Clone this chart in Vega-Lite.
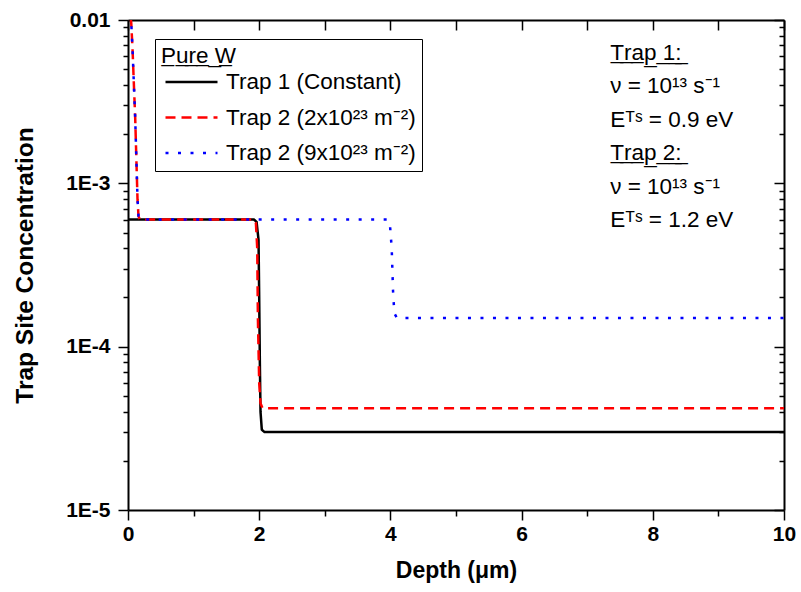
{
  "$schema": "https://vega.github.io/schema/vega-lite/v6.json",
  "width": 656,
  "height": 490,
  "autosize": {"type": "none"},
  "padding": {"left": 128, "top": 20, "right": 17, "bottom": 82},
  "background": "white",
  "config": {
    "view": {"stroke": null},
    "font": "Liberation Sans",
    "axis": {
      "grid": false,
      "domainColor": "black",
      "tickColor": "black",
      "labelColor": "black",
      "titleColor": "black",
      "domainWidth": 2,
      "tickWidth": 1.5,
      "labelFont": "Liberation Sans",
      "titleFont": "Liberation Sans"
    }
  },
  "datasets": {
    "curves": [
      {"s": "Trap 1 (Constant)", "x": 0, "y": 0.0006},
      {"s": "Trap 1 (Constant)", "x": 1.92, "y": 0.0006},
      {"s": "Trap 1 (Constant)", "x": 1.96, "y": 0.00058},
      {"s": "Trap 1 (Constant)", "x": 1.99, "y": 0.00045},
      {"s": "Trap 1 (Constant)", "x": 2.0, "y": 0.0002},
      {"s": "Trap 1 (Constant)", "x": 2.01, "y": 0.00008},
      {"s": "Trap 1 (Constant)", "x": 2.02, "y": 0.00004},
      {"s": "Trap 1 (Constant)", "x": 2.04, "y": 0.000031},
      {"s": "Trap 1 (Constant)", "x": 2.08, "y": 0.00003},
      {"s": "Trap 1 (Constant)", "x": 10, "y": 0.00003},
      {"s": "Trap 2 (2x10²³ m⁻²)", "x": 0.02, "y": 0.013},
      {"s": "Trap 2 (2x10²³ m⁻²)", "x": 0.05, "y": 0.0095},
      {"s": "Trap 2 (2x10²³ m⁻²)", "x": 0.07, "y": 0.0065},
      {"s": "Trap 2 (2x10²³ m⁻²)", "x": 0.09, "y": 0.004},
      {"s": "Trap 2 (2x10²³ m⁻²)", "x": 0.11, "y": 0.0025},
      {"s": "Trap 2 (2x10²³ m⁻²)", "x": 0.13, "y": 0.0013},
      {"s": "Trap 2 (2x10²³ m⁻²)", "x": 0.145, "y": 0.0008},
      {"s": "Trap 2 (2x10²³ m⁻²)", "x": 0.16, "y": 0.00063},
      {"s": "Trap 2 (2x10²³ m⁻²)", "x": 0.18, "y": 0.0006},
      {"s": "Trap 2 (2x10²³ m⁻²)", "x": 1.92, "y": 0.0006},
      {"s": "Trap 2 (2x10²³ m⁻²)", "x": 1.95, "y": 0.00057},
      {"s": "Trap 2 (2x10²³ m⁻²)", "x": 1.97, "y": 0.0004},
      {"s": "Trap 2 (2x10²³ m⁻²)", "x": 1.98, "y": 0.00015},
      {"s": "Trap 2 (2x10²³ m⁻²)", "x": 2.0, "y": 0.00006},
      {"s": "Trap 2 (2x10²³ m⁻²)", "x": 2.02, "y": 0.000045},
      {"s": "Trap 2 (2x10²³ m⁻²)", "x": 2.05, "y": 0.000042},
      {"s": "Trap 2 (2x10²³ m⁻²)", "x": 10, "y": 0.000042},
      {"s": "Trap 2 (9x10²³ m⁻²)", "x": 0.02, "y": 0.013},
      {"s": "Trap 2 (9x10²³ m⁻²)", "x": 0.05, "y": 0.0095},
      {"s": "Trap 2 (9x10²³ m⁻²)", "x": 0.07, "y": 0.0065},
      {"s": "Trap 2 (9x10²³ m⁻²)", "x": 0.09, "y": 0.004},
      {"s": "Trap 2 (9x10²³ m⁻²)", "x": 0.11, "y": 0.0025},
      {"s": "Trap 2 (9x10²³ m⁻²)", "x": 0.13, "y": 0.0013},
      {"s": "Trap 2 (9x10²³ m⁻²)", "x": 0.145, "y": 0.0008},
      {"s": "Trap 2 (9x10²³ m⁻²)", "x": 0.16, "y": 0.00063},
      {"s": "Trap 2 (9x10²³ m⁻²)", "x": 0.18, "y": 0.0006},
      {"s": "Trap 2 (9x10²³ m⁻²)", "x": 3.96, "y": 0.0006},
      {"s": "Trap 2 (9x10²³ m⁻²)", "x": 3.99, "y": 0.00058},
      {"s": "Trap 2 (9x10²³ m⁻²)", "x": 4.02, "y": 0.0004},
      {"s": "Trap 2 (9x10²³ m⁻²)", "x": 4.04, "y": 0.00022},
      {"s": "Trap 2 (9x10²³ m⁻²)", "x": 4.06, "y": 0.00016},
      {"s": "Trap 2 (9x10²³ m⁻²)", "x": 4.1, "y": 0.00015},
      {"s": "Trap 2 (9x10²³ m⁻²)", "x": 10, "y": 0.00015}
    ]
  },
  "layer": [
    {
      "data": {"name": "curves"},
      "mark": {"type": "line", "clip": true, "strokeWidth": 2.5},
      "encoding": {
        "x": {
          "field": "x", "type": "quantitative",
          "scale": {"domain": [0, 10], "nice": false, "zero": false},
          "axis": {
            "orient": "bottom", "values": [0, 2, 4, 6, 8, 10], "format": "d",
            "title": "Depth (μm)", "titleFontSize": 23, "titleFontWeight": "bold", "titlePadding": 15,
            "labelFontSize": 21, "labelFontWeight": "bold", "labelPadding": 3, "labelFlush": false,
            "tickSize": 10
          }
        },
        "y": {
          "field": "y", "type": "quantitative",
          "scale": {"type": "log", "domain": [0.00001, 0.01], "nice": false},
          "axis": {
            "orient": "left", "values": [0.00001, 0.0001, 0.001, 0.01],
            "labelExpr": "datum.value > 0.005 ? '0.01' : datum.value > 0.0005 ? '1E-3' : datum.value > 0.00005 ? '1E-4' : '1E-5'",
            "title": "Trap Site Concentration", "titleFontSize": 24.5, "titleFontWeight": "bold", "titlePadding": 28,
            "labelFontSize": 21, "labelFontWeight": "bold", "labelPadding": 8, "labelFlush": false,
            "tickSize": 10
          }
        },
        "color": {
          "field": "s", "type": "nominal",
          "scale": {"domain": ["Trap 1 (Constant)", "Trap 2 (2x10²³ m⁻²)", "Trap 2 (9x10²³ m⁻²)"], "range": ["#000000", "#ff0000", "#0000ff"]},
          "legend": {
            "title": "P̲u̲r̲e̲ ̲W̲", "orient": "none", "legendX": 27, "legendY": 19,
            "strokeColor": "black", "fillColor": "white", "padding": 6,
            "titleFont": "Liberation Sans", "titleFontSize": 22.5, "titleFontWeight": "normal", "titleColor": "black", "titlePadding": 3.5,
            "labelFont": "Liberation Sans", "labelFontSize": 22.5, "labelColor": "black", "labelOffset": 7, "labelLimit": 400,
            "symbolType": "stroke", "symbolSize": 2704, "symbolStrokeWidth": 2.5, "symbolOffset": 3, "clipHeight": 22, "rowPadding": 12.5
          }
        },
        "strokeDash": {
          "field": "s", "type": "nominal",
          "scale": {"domain": ["Trap 1 (Constant)", "Trap 2 (2x10²³ m⁻²)", "Trap 2 (9x10²³ m⁻²)"], "range": [[1, 0], [10, 6], [3, 9.5]]},
          "legend": {
            "title": "P̲u̲r̲e̲ ̲W̲", "orient": "none", "legendX": 27, "legendY": 19,
            "strokeColor": "black", "fillColor": "white", "padding": 6,
            "titleFont": "Liberation Sans", "titleFontSize": 22.5, "titleFontWeight": "normal", "titleColor": "black", "titlePadding": 3.5,
            "labelFont": "Liberation Sans", "labelFontSize": 22.5, "labelColor": "black", "labelOffset": 7, "labelLimit": 400,
            "symbolType": "stroke", "symbolSize": 2704, "symbolStrokeWidth": 2.5, "symbolOffset": 3, "clipHeight": 22, "rowPadding": 12.5
          }
        }
      }
    },
    {
      "data": {"name": "curves"},
      "mark": {"type": "point", "opacity": 0},
      "encoding": {
        "x": {"field": "x", "type": "quantitative", "scale": {"domain": [0, 10], "nice": false, "zero": false},
          "axis": {"orient": "bottom", "values": [1, 3, 5, 7, 9], "labels": false, "domain": false, "title": null, "tickSize": 6}},
        "y": {"field": "y", "type": "quantitative", "scale": {"type": "log", "domain": [0.00001, 0.01], "nice": false},
          "axis": {"orient": "left", "values": [0.00002, 0.00003, 0.00004, 0.00005, 0.00006, 0.00007, 0.00008, 0.00009, 0.0002, 0.0003, 0.0004, 0.0005, 0.0006, 0.0007, 0.0008, 0.0009, 0.002, 0.003, 0.004, 0.005, 0.006, 0.007, 0.008, 0.009], "labels": false, "domain": false, "title": null, "tickSize": 5}}
      }
    },
    {
      "data": {"name": "curves"},
      "mark": {"type": "point", "opacity": 0},
      "encoding": {
        "x": {"field": "x", "type": "quantitative", "scale": {"domain": [0, 10], "nice": false, "zero": false},
          "axis": {"orient": "top", "values": [0, 1, 2, 3, 4, 5, 6, 7, 8, 9, 10], "labels": false, "domain": true, "title": null, "tickSize": -10}},
        "y": {"field": "y", "type": "quantitative", "scale": {"type": "log", "domain": [0.00001, 0.01], "nice": false},
          "axis": {"orient": "right", "values": [0.00001, 0.0001, 0.001, 0.01], "labels": false, "domain": true, "title": null, "tickSize": -10}}
      }
    },
    {
      "data": {"name": "curves"},
      "mark": {"type": "point", "opacity": 0},
      "encoding": {
        "x": {"field": "x", "type": "quantitative", "scale": {"domain": [0, 10], "nice": false, "zero": false}, "axis": null},
        "y": {"field": "y", "type": "quantitative", "scale": {"type": "log", "domain": [0.00001, 0.01], "nice": false},
          "axis": {"orient": "right", "values": [0.00002, 0.00003, 0.00004, 0.00005, 0.00006, 0.00007, 0.00008, 0.00009, 0.0002, 0.0003, 0.0004, 0.0005, 0.0006, 0.0007, 0.0008, 0.0009, 0.002, 0.003, 0.004, 0.005, 0.006, 0.007, 0.008, 0.009], "labels": false, "domain": false, "title": null, "tickSize": -5}}
      }
    },
    {
      "data": {"values": [{}]},
      "mark": {"type": "text", "align": "left", "baseline": "alphabetic", "fontSize": 22.5, "font": "Liberation Sans", "lineHeight": 33.4, "color": "black"},
      "encoding": {
        "x": {"datum": 7.35, "type": "quantitative", "axis": null},
        "y": {"datum": 0.00569, "type": "quantitative", "axis": null},
        "text": {"value": ["T̲r̲a̲p̲ ̲1̲:̲", "ν = 10¹³ s⁻¹", "Eᵀˢ = 0.9 eV", "T̲r̲a̲p̲ ̲2̲:̲", "ν = 10¹³ s⁻¹", "Eᵀˢ = 1.2 eV"]}
      }
    }
  ],
  "resolve": {"axis": {"x": "independent", "y": "independent"}}
}
